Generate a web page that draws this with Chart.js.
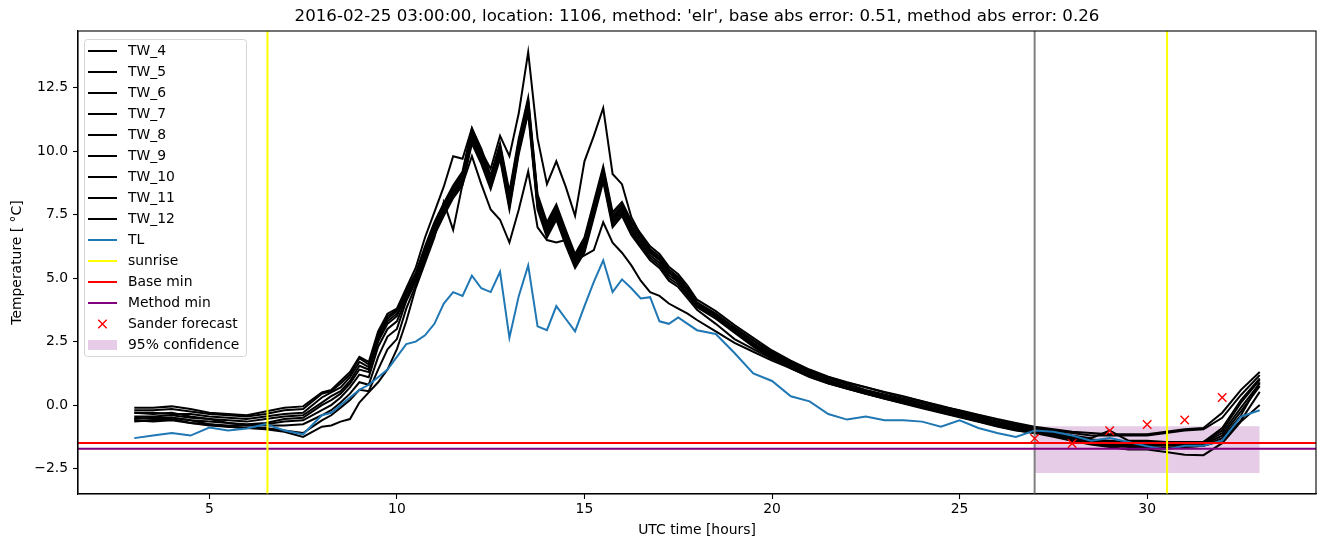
<!DOCTYPE html>
<html>
<head>
<meta charset="utf-8">
<title>Temperature forecast 2016-02-25</title>
<script src="https://cdn.jsdelivr.net/npm/chart.js@4.4.1/dist/chart.umd.min.js"></script>
<style>
  html, body { margin: 0; padding: 0; background: #fff; }
  canvas { display: block; }
</style>
</head>
<body>
<canvas id="chart1" width="1326" height="547"></canvas>
<script>
const chartTitle = "2016-02-25 03:00:00, location: 1106, method: 'elr', base abs error: 0.51, method abs error: 0.26";

const hours = [
  3, 3.5, 4, 4.5, 5, 5.5, 6, 6.5, 7, 7.5,
  8, 8.25, 8.5, 8.75, 9, 9.25, 9.5, 9.75, 10, 10.25,
  10.5, 10.75, 11, 11.25, 11.5, 11.75, 12, 12.25, 12.5, 12.75,
  13, 13.25, 13.5, 13.75, 14, 14.25, 14.5, 14.75, 15, 15.25,
  15.5, 15.75, 16, 16.25, 16.5, 16.75, 17, 17.25, 17.5, 17.75,
  18, 18.5, 19, 19.5, 20, 20.5, 21, 21.5, 22, 22.5,
  23, 23.5, 24, 24.5, 25, 25.5, 26, 26.5, 27, 27.5,
  28, 28.5, 29, 29.5, 30, 30.5, 31, 31.5, 32, 32.5, 33
];

const tw4 = [
  -0.1, -0.1, -0.05, -0.15, -0.3, -0.35, -0.4, -0.25, -0.1, -0.05,
  0.5, 0.6, 0.95, 1.3, 1.9, 1.7, 2.9, 3.6, 3.8, 4.6,
  5.4, 6.6, 7.6, 8.6, 9.8, 9.7, 10.9, 10.0, 9.3, 10.6,
  9.8, 11.5, 13.9, 10.5, 8.7, 9.6, 8.6, 7.45, 9.6, 10.6,
  11.7, 9.1, 8.7, 7.4, 6.7, 6.1, 5.75, 5.25, 4.85, 4.35,
  3.95, 3.5, 3.05, 2.55, 2.1, 1.7, 1.35, 1.1, 0.88, 0.7,
  0.5, 0.32, 0.15, -0.05, -0.2, -0.38, -0.55, -0.7, -0.85, -0.95,
  -1.05, -1.1, -1.15, -1.15, -1.15, -1.05, -0.95, -0.9, -0.3, 0.6, 1.3
];
const tw5 = [
  -0.2, -0.2, -0.15, -0.25, -0.35, -0.4, -0.45, -0.35, -0.2, -0.15,
  0.45, 0.55, 0.85, 1.2, 1.85, 1.6, 2.8, 3.5, 3.75, 4.5,
  5.2, 6.25, 7.2, 7.95, 8.65, 9.2, 10.9, 10.1, 9.05, 10.3,
  8.4, 10.5, 12.1, 8.3, 7.2, 7.9, 6.9, 5.95, 6.6, 8.0,
  9.4, 7.6, 8.0, 7.25, 6.75, 6.25, 5.95, 5.45, 5.15, 4.7,
  4.15, 3.7, 3.15, 2.65, 2.15, 1.75, 1.4, 1.12, 0.9, 0.7,
  0.52, 0.35, 0.15, -0.02, -0.22, -0.4, -0.58, -0.75, -0.9, -1.0,
  -1.1, -1.2, -1.2, -1.2, -1.2, -1.1, -1.0, -0.95, -0.5, 0.4, 1.18
];
const tw6 = [
  -0.3, -0.3, -0.35, -0.35, -0.45, -0.5, -0.55, -0.45, -0.35, -0.3,
  0.3, 0.5, 0.7, 1.1, 1.7, 1.5, 2.7, 3.4, 3.7, 4.4,
  5.1, 6.15, 7.1, 7.85, 8.55, 9.1, 10.8, 10.0, 8.95, 10.2,
  8.3, 10.4, 12.0, 8.2, 7.1, 7.8, 6.8, 5.85, 6.5, 7.9,
  9.3, 7.5, 7.9, 7.15, 6.65, 6.15, 5.85, 5.35, 5.05, 4.6,
  4.05, 3.6, 3.05, 2.55, 2.05, 1.65, 1.3, 1.05, 0.82, 0.6,
  0.42, 0.25, 0.08, -0.1, -0.28, -0.46, -0.64, -0.8, -0.95, -1.05,
  -1.2, -1.3, -1.0, -1.4, -1.4, -1.45, -1.45, -1.45, -0.9, 0.2, 1.05
];
const tw7 = [
  -0.45, -0.45, -0.4, -0.5, -0.55, -0.6, -0.65, -0.55, -0.45, -0.4,
  0.1, 0.35, 0.55, 0.95, 1.55, 1.4, 2.6, 3.3, 3.6, 4.3,
  5.05, 6.1, 7.05, 7.8, 8.5, 9.0, 10.7, 9.9, 8.9, 10.1,
  8.1, 10.3, 11.9, 8.1, 7.0, 7.7, 6.7, 5.75, 6.4, 7.8,
  9.2, 7.4, 7.8, 7.05, 6.55, 6.05, 5.75, 5.25, 5.0, 4.55,
  4.0, 3.55, 3.0, 2.45, 2.0, 1.6, 1.25, 0.98, 0.75, 0.55,
  0.37, 0.2, 0.02, -0.15, -0.33, -0.5, -0.68, -0.85, -1.0, -1.1,
  -1.25, -1.35, -1.4, -1.45, -1.45, -1.5, -1.5, -1.45, -1.0, 0.1, 0.99
];
const tw8 = [
  -0.55, -0.5, -0.5, -0.6, -0.65, -0.7, -0.75, -0.7, -0.55, -0.5,
  0.0, 0.2, 0.45, 0.85, 1.4, 1.3, 2.5, 3.2, 3.5, 4.3,
  5.0, 6.0, 7.0, 7.7, 8.4, 8.9, 10.6, 9.8, 8.8, 10.0,
  8.0, 10.2, 11.8, 8.0, 6.9, 7.6, 6.6, 5.7, 6.3, 7.7,
  9.1, 7.3, 7.75, 7.0, 6.5, 6.0, 5.7, 5.2, 4.95, 4.5,
  3.95, 3.5, 2.95, 2.4, 1.95, 1.55, 1.2, 0.95, 0.72, 0.52,
  0.33, 0.16, -0.02, -0.2, -0.38, -0.55, -0.72, -0.88, -1.0, -1.15,
  -1.3, -1.4, -1.45, -1.5, -1.55, -1.55, -1.55, -1.5, -1.1, -0.1, 0.86
];
const tw9 = [
  -0.65, -0.6, -0.55, -0.7, -0.75, -0.8, -0.8, -0.75, -0.65, -0.6,
  -0.2, 0.0, 0.3, 0.7, 1.2, 1.1, 2.3, 3.0, 3.3, 4.2,
  4.95, 5.95, 6.95, 7.65, 8.35, 8.85, 10.5, 9.7, 8.7, 9.9,
  7.9, 10.1, 11.7, 7.9, 6.8, 7.5, 6.5, 5.6, 6.2, 7.6,
  9.0, 7.2, 7.65, 6.9, 6.4, 5.9, 5.6, 5.1, 4.85, 4.4,
  3.9, 3.45, 2.9, 2.35, 1.9, 1.5, 1.15, 0.9, 0.68, 0.48,
  0.3, 0.12, -0.06, -0.24, -0.42, -0.6, -0.76, -0.92, -1.05, -1.15,
  -1.3, -1.45, -1.5, -1.55, -1.6, -1.6, -1.6, -1.55, -1.2, -0.25, 0.75
];
const tw10 = [
  -0.3, -0.35, -0.3, -0.45, -0.55, -0.7, -0.8, -0.8, -0.8, -0.75,
  -0.4, -0.2, 0.1, 0.45, 0.9, 0.8, 1.9, 2.7, 3.0, 4.1,
  4.85, 5.85, 6.85, 7.55, 8.25, 8.75, 10.4, 9.6, 8.6, 9.8,
  7.8, 10.0, 11.6, 7.8, 6.7, 7.4, 6.4, 5.5, 6.1, 7.5,
  8.9, 7.1, 7.55, 6.8, 6.3, 5.8, 5.5, 5.0, 4.75, 4.3,
  3.85, 3.4, 2.85, 2.3, 1.85, 1.45, 1.12, 0.86, 0.64, 0.45,
  0.27, 0.1, -0.08, -0.27, -0.45, -0.62, -0.8, -0.95, -1.05, -1.2,
  -1.35, -1.5, -1.55, -1.6, -1.65, -1.7, -1.65, -1.6, -1.3, -0.4, 0.9
];
const tw11 = [
  -0.6, -0.65, -0.6, -0.7, -0.8, -0.85, -0.9, -0.9, -1.0, -1.1,
  -0.6, -0.4, -0.1, 0.2, 0.6, 0.55, 1.4, 2.2, 2.6, 3.8,
  4.7, 5.7, 6.7, 7.45, 8.15, 8.65, 10.3, 9.5, 8.5, 9.7,
  7.7, 9.9, 11.5, 7.7, 6.6, 7.3, 6.3, 5.4, 6.0, 7.4,
  8.8, 7.0, 7.45, 6.7, 6.2, 5.7, 5.4, 4.9, 4.65, 4.2,
  3.75, 3.2, 2.6, 2.2, 1.82, 1.5, 1.15, 0.88, 0.66, 0.46,
  0.26, 0.08, -0.1, -0.28, -0.46, -0.64, -0.82, -0.98, -1.1, -1.2,
  -1.4, -1.5, -1.6, -1.65, -1.7, -1.7, -1.65, -1.6, -1.4, -0.6, 0.52
];
const tw12 = [
  -0.5, -0.55, -0.5, -0.6, -0.75, -0.85, -0.9, -0.95, -1.05, -1.25,
  -0.85, -0.8, -0.65, -0.55, 0.1, 0.5, 0.9, 1.4, 2.2, 3.3,
  4.6, 5.6, 6.6, 8.0, 6.9, 8.7, 9.8, 8.7, 7.7, 7.3,
  6.4, 7.7, 9.2, 7.0, 6.5, 6.4, 6.5, 5.7, 5.9, 6.1,
  7.2, 6.4, 6.0, 5.5, 4.9, 4.45, 4.3, 4.0, 3.8, 3.6,
  3.35, 2.9, 2.45, 2.1, 1.75, 1.45, 1.1, 0.85, 0.65, 0.45,
  0.25, 0.06, -0.12, -0.3, -0.48, -0.66, -0.84, -1.0, -1.1, -1.25,
  -1.4, -1.55, -1.65, -1.75, -1.75, -1.85, -1.95, -1.97, -1.5, -0.65, 0.0
];
const tl = [
  -1.3, -1.2, -1.1, -1.2, -0.88, -1.0, -0.92, -0.75, -1.0, -1.15,
  -0.4, -0.3, 0.0, 0.3, 0.6, 0.8, 1.1, 1.4, 1.9, 2.4,
  2.5, 2.75, 3.2, 4.0, 4.45, 4.3, 5.1, 4.6, 4.45, 5.25,
  2.65, 4.3, 5.5, 3.1, 2.95, 3.9, 3.4, 2.9, 3.9, 4.85,
  5.7, 4.45, 4.95, 4.6, 4.2, 4.25, 3.3, 3.2, 3.45, 3.2,
  2.95, 2.8, 2.05, 1.25, 0.95, 0.35, 0.15, -0.35, -0.57, -0.45,
  -0.6, -0.6, -0.65, -0.85, -0.6, -0.9, -1.1, -1.25, -1.0, -1.05,
  -1.2, -1.4, -1.3, -1.45, -1.62, -1.75, -1.6, -1.6, -1.4, -0.45, -0.2
];

const sunriseHours = [6.55, 30.53];
const forecastStart = 27;
const baseMin = -1.49;
const methodMin = -1.72;
const forecastHours = [27, 28, 29, 30, 31, 32];
const forecastValues = [-1.31, -1.51, -1.01, -0.76, -0.59, 0.30];
const confHours = [27, 33];
const confUpper = [-0.83, -0.83];
const confLower = [-2.67, -2.67];

const xMin = 1.5, xMax = 34.5;
const yMin = -3.5, yMax = 14.73;

const toPoints = (xs, ys) => xs.map((x, i) => ({ x: x, y: ys[i] }));
const vLines = xs => xs.flatMap(x => [{ x: x, y: yMin }, { x: x, y: yMax }, { x: x, y: null }]);
const hLine = y => [{ x: xMin, y: y }, { x: xMax, y: y }];

const twSeries = [
  ['TW_4', tw4], ['TW_5', tw5], ['TW_6', tw6], ['TW_7', tw7], ['TW_8', tw8],
  ['TW_9', tw9], ['TW_10', tw10], ['TW_11', tw11], ['TW_12', tw12]
];

const lineBase = { pointRadius: 0, borderWidth: 2, tension: 0, fill: false, spanGaps: false };

const datasets = twSeries.map(([name, values]) => ({
  ...lineBase, label: name, data: toPoints(hours, values), borderColor: '#000000', order: 5
}));
datasets.push(
  { ...lineBase, label: 'TL', data: toPoints(hours, tl), borderColor: '#1f77b4', order: 4 },
  { ...lineBase, label: 'sunrise', data: vLines(sunriseHours), borderColor: '#ffff00', order: 1 },
  { ...lineBase, label: 'Base min', data: hLine(baseMin), borderColor: '#ff0000', order: 2 },
  { ...lineBase, label: 'Method min', data: hLine(methodMin), borderColor: '#800080', order: 2 },
  {
    label: 'Sander forecast', data: toPoints(forecastHours, forecastValues), showLine: false,
    pointStyle: 'crossRot', pointRadius: 6, pointBorderWidth: 1.4,
    borderColor: '#ff0000', backgroundColor: '#ff0000', order: 0, legendKind: 'marker'
  },
  {
    ...lineBase, label: '95% confidence', data: toPoints(confHours, confUpper), borderWidth: 0,
    borderColor: 'rgba(0,0,0,0)', backgroundColor: 'rgba(128,0,128,0.2)', fill: '+1', order: 7, legendKind: 'patch'
  },
  { ...lineBase, label: '', data: toPoints(confHours, confLower), borderWidth: 0, borderColor: 'rgba(0,0,0,0)', order: 7 },
  { ...lineBase, label: '', data: vLines([forecastStart]), borderColor: '#808080', order: 3 }
);

const fontFamily = 'DejaVu Sans';
Chart.defaults.font.family = fontFamily;
Chart.defaults.color = '#000';

// axes frame, title centred over the plot area, and the legend inside the plot
const frameAndLegend = {
  id: 'frameAndLegend',
  afterDraw(chart) {
    const { ctx, chartArea: a } = chart;
    ctx.save();
    ctx.strokeStyle = '#000';
    ctx.lineWidth = 1.1;
    ctx.strokeRect(a.left, a.top, a.right - a.left, a.bottom - a.top);

    ctx.fillStyle = '#000';
    ctx.font = '16.67px "' + fontFamily + '"';
    ctx.textAlign = 'center';
    ctx.textBaseline = 'middle';
    ctx.fillText(chartTitle, (a.left + a.right) / 2, a.top - 14);

    const items = chart.data.datasets.filter(d => d.label);
    const x0 = a.left + 6, y0 = a.top + 8, w = 162, rowH = 21;
    const h = items.length * rowH + 2;
    ctx.beginPath();
    ctx.roundRect(x0 + 0.5, y0 + 0.5, w, h, 3);
    ctx.fillStyle = 'rgba(255,255,255,0.8)';
    ctx.fill();
    ctx.strokeStyle = 'rgba(204,204,204,0.8)';
    ctx.lineWidth = 1;
    ctx.stroke();

    ctx.font = '13.9px "' + fontFamily + '"';
    ctx.textBaseline = 'middle';
    ctx.textAlign = 'left';
    items.forEach((d, i) => {
      const cy = y0 + 12 + i * rowH;
      const hx = x0 + 4, hw = 29;
      if (d.legendKind === 'marker') {
        const cx = hx + hw / 2, r = 4.2;
        ctx.strokeStyle = d.borderColor;
        ctx.lineWidth = 1.4;
        ctx.beginPath();
        ctx.moveTo(cx - r, cy - r); ctx.lineTo(cx + r, cy + r);
        ctx.moveTo(cx - r, cy + r); ctx.lineTo(cx + r, cy - r);
        ctx.stroke();
      } else if (d.legendKind === 'patch') {
        ctx.fillStyle = d.backgroundColor;
        ctx.fillRect(hx, cy - 5, hw, 10);
      } else {
        ctx.strokeStyle = d.borderColor;
        ctx.lineWidth = 2;
        ctx.beginPath();
        ctx.moveTo(hx, cy); ctx.lineTo(hx + hw, cy);
        ctx.stroke();
      }
      ctx.fillStyle = '#000';
      ctx.fillText(d.label, x0 + 44, cy);
    });
    ctx.restore();
  }
};

const tickFont = { family: fontFamily, size: 13.9 };

new Chart(document.getElementById('chart1').getContext('2d'), {
  type: 'line',
  data: { datasets: datasets },
  options: {
    responsive: false,
    animation: false,
    devicePixelRatio: 1,
    events: [],
    layout: { padding: { left: 0, right: 10, top: 31, bottom: 0 } },
    plugins: {
      legend: { display: false },
      tooltip: { enabled: false },
      title: { display: false }
    },
    scales: {
      x: {
        type: 'linear',
        min: xMin,
        max: xMax,
        afterFit: s => { s.height = 53; },
        ticks: { stepSize: 5, includeBounds: false, font: tickFont, color: '#000', padding: 2, maxRotation: 0, autoSkip: false },
        grid: { drawOnChartArea: false, drawTicks: true, tickLength: 5, tickWidth: 1.1, tickColor: '#000' },
        border: { display: true, color: '#000', width: 1.1 },
        title: { display: true, text: 'UTC time [hours]', color: '#000', font: tickFont, padding: { top: 0, bottom: 8.6 } }
      },
      y: {
        min: yMin,
        max: yMax,
        afterFit: s => { s.width = 78; },
        ticks: {
          stepSize: 2.5, includeBounds: false, font: tickFont, color: '#000', padding: 5,
          callback: v => v.toFixed(1).replace('-', '\u2212')
        },
        grid: { drawOnChartArea: false, drawTicks: true, tickLength: 5, tickWidth: 1.1, tickColor: '#000' },
        border: { display: true, color: '#000', width: 1.1 },
        title: { display: true, text: 'Temperature [ °C]', color: '#000', font: tickFont, padding: { top: 9, bottom: 0 } }
      }
    }
  },
  plugins: [frameAndLegend]
});
</script>
</body>
</html>
